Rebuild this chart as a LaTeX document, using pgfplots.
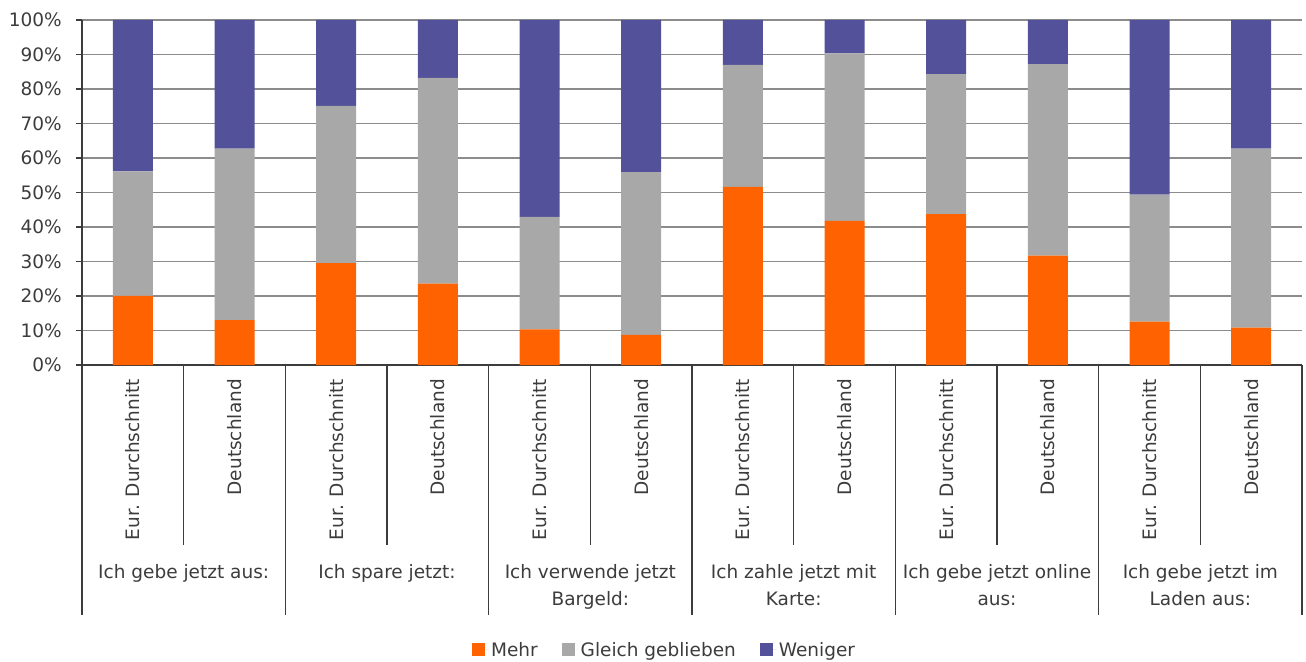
\documentclass[border=0pt]{standalone}
\usepackage{fontspec}
\setmainfont{DejaVu Sans}
\usepackage{pgfplots}
\pgfplotsset{compat=1.18}
\definecolor{ingorange}{HTML}{FF6200}
\definecolor{inggray}{HTML}{A8A8A8}
\definecolor{ingpurple}{HTML}{525199}
\definecolor{txt}{HTML}{3C3C3C}
\definecolor{gridc}{HTML}{8C8C8C}
\tikzset{grp/.style={anchor=north, align=center, inner sep=0pt, text=txt, font=\fontsize{18.5bp}{27bp}\selectfont}}
\begin{document}
\begin{tikzpicture}
\path (0,0) rectangle (1306bp,662bp);
\begin{axis}[
  at={(82bp,297bp)}, anchor=south west,
  scale only axis, width=1220bp, height=345bp,
  clip=false,
  ybar stacked, bar width=40bp,
  xmin=-0.5, xmax=11.5, ymin=0, ymax=100,
  axis x line*=bottom, axis y line*=left,
  axis line style={draw=txt, line width=1.2bp, -},
  font=\fontsize{18.5bp}{22bp}\selectfont,
  tick label style={text=txt},
  ytick={0,10,...,100},
  yticklabels={0\%,10\%,20\%,30\%,40\%,50\%,60\%,70\%,80\%,90\%,100\%},
  ymajorgrids, grid style={gridc, line width=1.6bp},
  tick align=outside,
  major tick length=6bp,
  minor tick length=180bp,
  tick style={draw=txt, line width=1.2bp},
  every major x tick/.append style={draw=none},
  xtick={0,...,11},
  xticklabels={Eur. Durchschnitt,Deutschland,Eur. Durchschnitt,Deutschland,Eur. Durchschnitt,Deutschland,Eur. Durchschnitt,Deutschland,Eur. Durchschnitt,Deutschland,Eur. Durchschnitt,Deutschland},
  xticklabel style={rotate=90, anchor=east, inner sep=0pt},
  xticklabel shift=8bp,
  yticklabel style={anchor=east, inner sep=0pt},
  yticklabel shift=14bp,
  minor xtick={0.5,2.5,4.5,6.5,8.5,10.5},
  extra x ticks={-0.5,1.5,3.5,5.5,7.5,9.5},
  extra x tick labels={},
  extra x tick style={major tick length=250bp, grid=none, every major x tick/.append style={draw=txt, line width=1.2bp}},
  legend style={at={(0.4775,-0.826)}, anchor=center, legend columns=3, draw=none, fill=none,
    font=\fontsize{18.5bp}{22bp}\selectfont, text=txt,
    /tikz/every even column/.append style={column sep=22bp},
    legend cell align=left},
  legend image code/.code={\fill[#1] (0bp,-6.5bp) rectangle (13bp,6.5bp); \path (0bp,0bp) -- (17bp,0bp);},
]
\addplot[fill=ingorange, draw=none] coordinates {(0,20.0) (1,13.0) (2,29.5) (3,23.6) (4,10.3) (5,8.7) (6,51.6) (7,41.8) (8,43.7) (9,31.7) (10,12.6) (11,10.8)};
\addplot[fill=inggray, draw=none] coordinates {(0,36.1) (1,49.7) (2,45.6) (3,59.6) (4,32.6) (5,47.2) (6,35.4) (7,48.5) (8,40.6) (9,55.5) (10,36.8) (11,51.9)};
\addplot[fill=ingpurple, draw=none] coordinates {(0,43.9) (1,37.3) (2,24.9) (3,16.8) (4,57.1) (5,44.1) (6,13.0) (7,9.7) (8,15.7) (9,12.8) (10,50.6) (11,37.3)};
\legend{Mehr,Gleich geblieben,Weniger}
\draw[txt, line width=2bp] ([xshift=-0.5bp]axis cs:11.5,0) -- ++(0bp,-250bp);
\node[grp] at ([yshift=-199bp]axis cs:0.5,0) {Ich gebe jetzt aus:};
\node[grp] at ([yshift=-199bp]axis cs:2.5,0) {Ich spare jetzt:};
\node[grp] at ([yshift=-199bp]axis cs:4.5,0) {Ich verwende jetzt\\Bargeld:};
\node[grp] at ([yshift=-199bp]axis cs:6.5,0) {Ich zahle jetzt mit\\Karte:};
\node[grp] at ([yshift=-199bp]axis cs:8.5,0) {Ich gebe jetzt online\\aus:};
\node[grp] at ([yshift=-199bp]axis cs:10.5,0) {Ich gebe jetzt im\\Laden aus:};
\end{axis}
\end{tikzpicture}
\end{document}
